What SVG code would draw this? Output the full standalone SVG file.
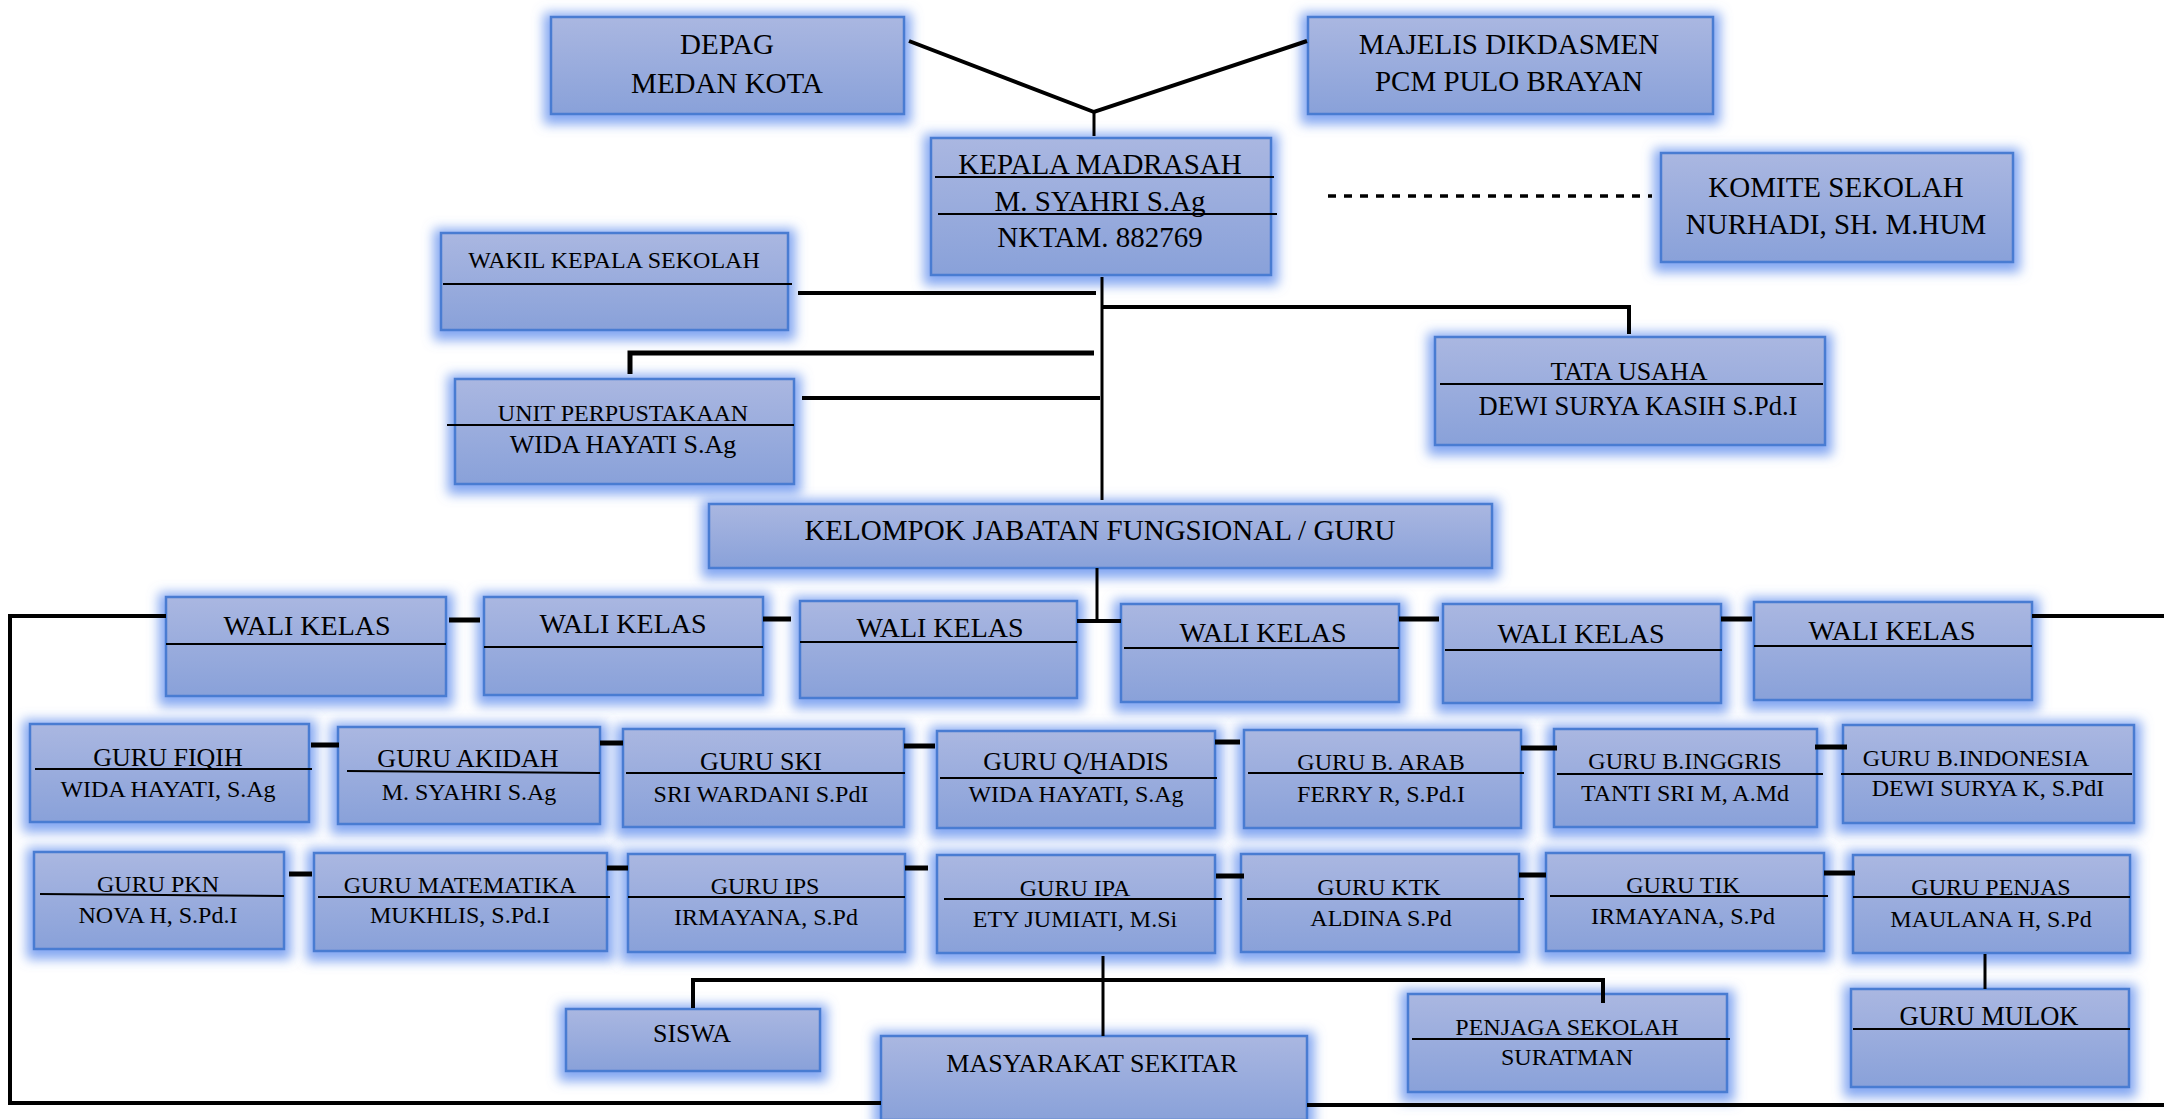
<svg xmlns="http://www.w3.org/2000/svg" width="2164" height="1119" viewBox="0 0 2164 1119">
<defs>
<linearGradient id="bg" x1="0" y1="0" x2="0" y2="1">
<stop offset="0" stop-color="#aab7e1"/>
<stop offset="1" stop-color="#89a1d9"/>
</linearGradient>
<filter id="glow" x="-20%" y="-50%" width="140%" height="200%">
<feMorphology in="SourceAlpha" operator="dilate" radius="6" result="d"/>
<feOffset in="d" dy="3" result="o"/>
<feGaussianBlur in="o" stdDeviation="6" result="b"/>
<feFlood flood-color="#6591ee" flood-opacity="0.8"/>
<feComposite in2="b" operator="in" result="g"/>
<feMerge><feMergeNode in="g"/><feMergeNode in="SourceGraphic"/></feMerge>
</filter>
<style>
.box{fill:url(#bg);stroke:#4a7bd2;stroke-width:2.5;filter:url(#glow)}
.t{font-family:"Liberation Serif","Times New Roman",serif;fill:#000;text-anchor:middle}
.s29{font-size:29px}.s28{font-size:28px}.s26{font-size:26px}.s24{font-size:24px}
.ul{stroke:#000;stroke-width:2}
.c{stroke:#000;stroke-width:4;fill:none}
.v{stroke:#000;stroke-width:3;fill:none}
.k{stroke:#000;stroke-width:5}
</style>
</defs>
<rect width="2164" height="1119" fill="#fff"/>

<g id="depag"><rect class="box" x="551" y="17" width="353" height="97"/>
<text class="t s29" x="727" y="54">DEPAG</text><text class="t s29" x="727" y="93">MEDAN KOTA</text></g>

<g id="majelis"><rect class="box" x="1308" y="17" width="405" height="97"/>
<text class="t s29" x="1509" y="54">MAJELIS DIKDASMEN</text><text class="t s29" x="1509" y="91">PCM PULO BRAYAN</text></g>

<g id="kepala"><rect class="box" x="931" y="138" width="340" height="137"/>
<text class="t s29" x="1100" y="174">KEPALA MADRASAH</text>
<line class="ul" x1="935" y1="177" x2="1274" y2="177"/>
<text class="t s29" x="1100" y="211">M. SYAHRI S.Ag</text>
<line class="ul" x1="938" y1="214" x2="1277" y2="214"/>
<text class="t s29" x="1100" y="247">NKTAM. 882769</text></g>

<g id="komite"><rect class="box" x="1661" y="153" width="352" height="109"/>
<text class="t s29" x="1836" y="197">KOMITE SEKOLAH</text><text class="t s29" x="1836" y="234">NURHADI, SH. M.HUM</text></g>

<g id="wakil"><rect class="box" x="441" y="233" width="347" height="97"/>
<text class="t s24" x="614" y="268">WAKIL KEPALA SEKOLAH</text>
<line class="ul" x1="443" y1="284" x2="792" y2="284"/></g>

<g id="perpustakaan"><rect class="box" x="455" y="379" width="339" height="105"/>
<text class="t s24" x="623" y="421">UNIT PERPUSTAKAAN</text>
<line class="ul" x1="447" y1="425" x2="794" y2="425"/>
<text class="t s26" x="623" y="453">WIDA HAYATI S.Ag</text></g>

<g id="tatausaha"><rect class="box" x="1435" y="337" width="390" height="108"/>
<text class="t s26" x="1629" y="380">TATA USAHA</text>
<line class="ul" x1="1440" y1="384" x2="1823" y2="384"/>
<text class="t" style="font-size:26.5px" x="1638" y="415">DEWI SURYA KASIH S.Pd.I</text></g>

<g id="kelompok"><rect class="box" x="709" y="504" width="783" height="64"/>
<text class="t s29" x="1100" y="540">KELOMPOK JABATAN FUNGSIONAL / GURU</text></g>

<g id="wali1"><rect class="box" x="166" y="597" width="280" height="99"/>
<text class="t s28" x="307" y="635">WALI KELAS</text><line class="ul" x1="166" y1="644" x2="446" y2="644"/></g>
<g id="wali2"><rect class="box" x="484" y="597" width="279" height="98"/>
<text class="t s28" x="623" y="633">WALI KELAS</text><line class="ul" x1="484" y1="647" x2="763" y2="647"/></g>
<g id="wali3"><rect class="box" x="800" y="601" width="277" height="97"/>
<text class="t s28" x="940" y="637">WALI KELAS</text><line class="ul" x1="800" y1="642" x2="1077" y2="642"/></g>
<g id="wali4"><rect class="box" x="1121" y="604" width="278" height="98"/>
<text class="t s28" x="1263" y="642">WALI KELAS</text><line class="ul" x1="1124" y1="648" x2="1399" y2="648"/></g>
<g id="wali5"><rect class="box" x="1443" y="604" width="278" height="99"/>
<text class="t s28" x="1581" y="643">WALI KELAS</text><line class="ul" x1="1445" y1="650" x2="1722" y2="650"/></g>
<g id="wali6"><rect class="box" x="1754" y="602" width="278" height="98"/>
<text class="t s28" x="1892" y="640">WALI KELAS</text><line class="ul" x1="1754" y1="646" x2="2032" y2="646"/></g>

<g id="fiqih"><rect class="box" x="30" y="724" width="279" height="98"/>
<text class="t s26" x="168" y="766">GURU FIQIH</text><line class="ul" x1="35" y1="769" x2="312" y2="769"/>
<text class="t s24" x="168" y="797">WIDA HAYATI, S.Ag</text></g>
<g id="akidah"><rect class="box" x="338" y="727" width="262" height="97"/>
<text class="t s26" x="468" y="767">GURU AKIDAH</text><line class="ul" x1="347" y1="771" x2="600" y2="773"/>
<text class="t s24" x="469" y="800">M. SYAHRI S.Ag</text></g>
<g id="ski"><rect class="box" x="623" y="729" width="281" height="98"/>
<text class="t s26" x="761" y="770">GURU SKI</text><line class="ul" x1="626" y1="773" x2="905" y2="773"/>
<text class="t s24" x="761" y="802">SRI WARDANI S.PdI</text></g>
<g id="qhadis"><rect class="box" x="937" y="731" width="278" height="97"/>
<text class="t s26" x="1076" y="770">GURU Q/HADIS</text><line class="ul" x1="940" y1="778" x2="1217" y2="778"/>
<text class="t s24" x="1076" y="802">WIDA HAYATI, S.Ag</text></g>
<g id="barab"><rect class="box" x="1244" y="730" width="277" height="98"/>
<text class="t s24" x="1381" y="770">GURU B. ARAB</text><line class="ul" x1="1248" y1="773" x2="1524" y2="773"/>
<text class="t s24" x="1381" y="802">FERRY R, S.Pd.I</text></g>
<g id="binggris"><rect class="box" x="1554" y="729" width="263" height="98"/>
<text class="t s24" x="1685" y="769">GURU B.INGGRIS</text><line class="ul" x1="1557" y1="774" x2="1823" y2="774"/>
<text class="t s24" x="1685" y="801">TANTI SRI M, A.Md</text></g>
<g id="bindonesia"><rect class="box" x="1843" y="725" width="291" height="98"/>
<text class="t s24" x="1976" y="766">GURU B.INDONESIA</text><line class="ul" x1="1841" y1="774" x2="2132" y2="774"/>
<text class="t s24" x="1988" y="796">DEWI SURYA K, S.PdI</text></g>

<g id="pkn"><rect class="box" x="34" y="852" width="250" height="97"/>
<text class="t s24" x="158" y="892">GURU PKN</text><line class="ul" x1="40" y1="894" x2="284" y2="896"/>
<text class="t s24" x="158" y="923">NOVA H, S.Pd.I</text></g>
<g id="matematika"><rect class="box" x="314" y="853" width="293" height="98"/>
<text class="t s24" x="460" y="893">GURU MATEMATIKA</text><line class="ul" x1="318" y1="897" x2="610" y2="897"/>
<text class="t s24" x="460" y="923">MUKHLIS, S.Pd.I</text></g>
<g id="ips"><rect class="box" x="628" y="854" width="277" height="98"/>
<text class="t s24" x="765" y="894">GURU IPS</text><line class="ul" x1="628" y1="897" x2="905" y2="897"/>
<text class="t s24" x="766" y="925">IRMAYANA, S.Pd</text></g>
<g id="ipa"><rect class="box" x="937" y="855" width="278" height="98"/>
<text class="t s24" x="1075" y="896">GURU IPA</text><line class="ul" x1="944" y1="899" x2="1222" y2="899"/>
<text class="t s24" x="1075" y="927">ETY JUMIATI, M.Si</text></g>
<g id="ktk"><rect class="box" x="1241" y="854" width="278" height="98"/>
<text class="t s24" x="1379" y="895">GURU KTK</text><line class="ul" x1="1247" y1="899" x2="1524" y2="899"/>
<text class="t s24" x="1381" y="926">ALDINA S.Pd</text></g>
<g id="tik"><rect class="box" x="1546" y="853" width="278" height="98"/>
<text class="t s24" x="1683" y="893">GURU TIK</text><line class="ul" x1="1550" y1="896" x2="1828" y2="896"/>
<text class="t s24" x="1683" y="924">IRMAYANA, S.Pd</text></g>
<g id="penjas"><rect class="box" x="1853" y="855" width="277" height="98"/>
<text class="t s24" x="1991" y="895">GURU PENJAS</text><line class="ul" x1="1853" y1="897" x2="2130" y2="897"/>
<text class="t s24" x="1991" y="927">MAULANA H, S.Pd</text></g>
<g id="mulok"><rect class="box" x="1851" y="989" width="278" height="98"/>
<text class="t" style="font-size:26.5px" x="1989" y="1025">GURU MULOK</text><line class="ul" x1="1853" y1="1029" x2="2130" y2="1029"/></g>

<g id="siswa"><rect class="box" x="566" y="1009" width="254" height="62"/>
<text class="t s26" x="692" y="1042">SISWA</text></g>
<g id="masyarakat"><rect class="box" x="881" y="1036" width="426" height="84"/>
<text class="t s26" x="1092" y="1072">MASYARAKAT SEKITAR</text></g>
<g id="penjaga"><rect class="box" x="1408" y="994" width="319" height="98"/>
<text class="t s24" x="1567" y="1035">PENJAGA SEKOLAH</text><line class="ul" x1="1412" y1="1039" x2="1730" y2="1039"/>
<text class="t s24" x="1567" y="1065">SURATMAN</text></g>

<g id="connectors">
<polyline class="c" points="909,41 1094,112 1307,41"/>
<line class="v" x1="1094" y1="112" x2="1094" y2="136"/>
<line x1="1328" y1="196" x2="1652" y2="196" stroke="#000" stroke-width="3.5" stroke-dasharray="8 8"/>
<line class="v" x1="1102" y1="277" x2="1102" y2="500"/>
<line class="c" x1="798" y1="293" x2="1096" y2="293"/>
<polyline class="c" points="1102,307 1629,307 1629,334"/>
<polyline class="c" style="stroke-width:5" points="630,374 630,353 1094,353"/>
<line class="c" x1="802" y1="398" x2="1100" y2="398"/>
<line class="v" x1="1097" y1="568" x2="1097" y2="621"/>
<line class="c" x1="1077" y1="621" x2="1121" y2="621"/>
<line class="k" x1="449" y1="620" x2="480" y2="620"/>
<line class="k" x1="763" y1="619" x2="791" y2="619"/>
<line class="k" x1="1399" y1="619" x2="1439" y2="619"/>
<line class="k" x1="1721" y1="619" x2="1752" y2="619"/>
<line class="c" x1="2032" y1="616" x2="2164" y2="616"/>
<polyline class="c" points="166,616 10,616 10,1103 881,1103"/>
<line class="c" x1="1307" y1="1105" x2="2164" y2="1105"/>
<line class="k" x1="311" y1="745" x2="339" y2="745"/>
<line class="k" x1="600" y1="743" x2="623" y2="743"/>
<line class="k" x1="904" y1="746" x2="935" y2="746"/>
<line class="k" x1="1215" y1="742" x2="1240" y2="742"/>
<line class="k" x1="1521" y1="748" x2="1557" y2="748"/>
<line class="k" x1="1815" y1="747" x2="1847" y2="747"/>
<line class="k" x1="289" y1="874" x2="312" y2="874"/>
<line class="k" x1="607" y1="868" x2="628" y2="868"/>
<line class="k" x1="905" y1="868" x2="928" y2="868"/>
<line class="k" x1="1216" y1="876" x2="1244" y2="876"/>
<line class="k" x1="1519" y1="875" x2="1546" y2="875"/>
<line class="k" x1="1824" y1="873" x2="1855" y2="873"/>
<line class="v" x1="1103" y1="956" x2="1103" y2="1036"/>
<polyline class="c" points="693,1008 693,980 1603,980 1603,1003"/>
<line class="v" x1="1985" y1="954" x2="1985" y2="989"/>
</g>
</svg>
